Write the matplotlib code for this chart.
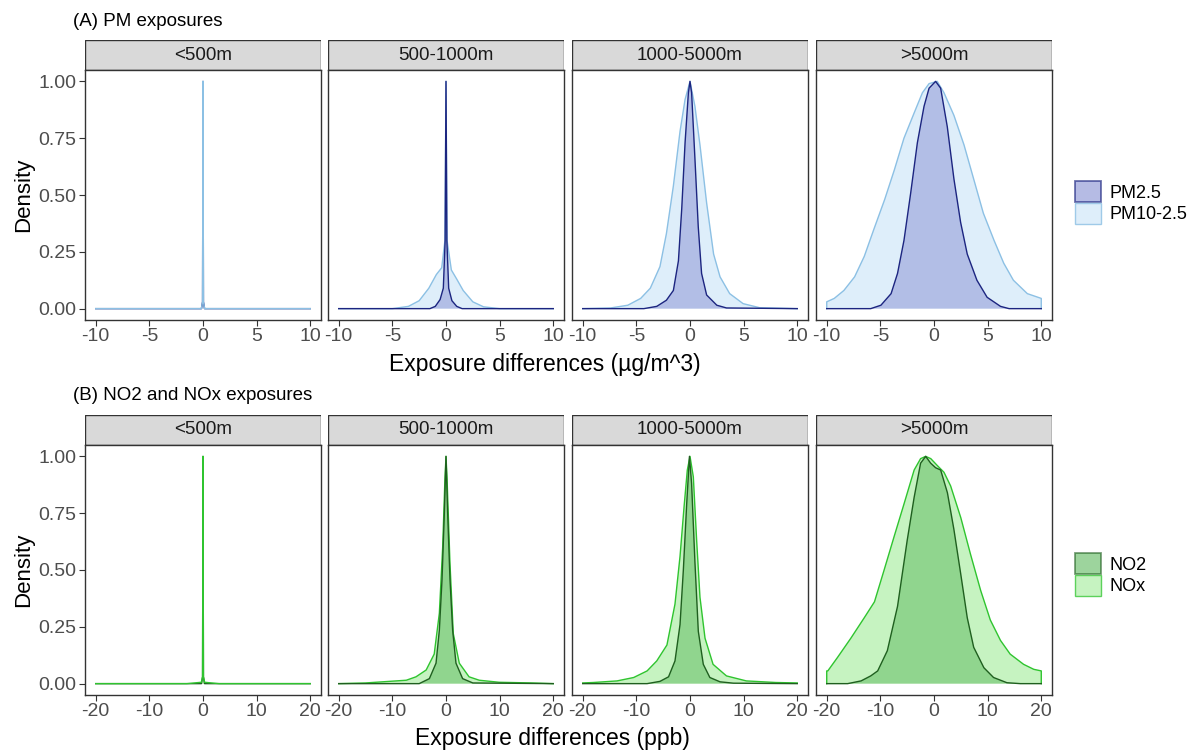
import matplotlib
matplotlib.use("Agg")
import matplotlib.pyplot as plt
from matplotlib.patches import Patch, Rectangle

plt.rcParams["font.family"] = ["Liberation Sans", "DejaVu Sans"]

# ---- data (scaled density, max = 1) ----
distance_bins = ["<500m", "500-1000m", "1000-5000m", ">5000m"]

pm_ticks = [-10, -5, 0, 5, 10]
no_ticks = [-20, -10, 0, 10, 20]
density_ticks = [0, 0.25, 0.5, 0.75, 1.0]

# (A) PM2.5
pm25_x_1 = [-10, -0.15, -0.04, 0, 0.04, 0.15, 10]
pm25_y_1 = [0, 0, 0.03, 1.0, 0.03, 0, 0]
pm25_x_2 = [-10, -1.5, -1.0, -0.55, -0.25, -0.08, 0, 0.08, 0.25, 0.55, 1.0, 1.5, 10]
pm25_y_2 = [0, 0, 0.01, 0.04, 0.09, 0.3, 1.0, 0.3, 0.09, 0.035, 0.01, 0, 0]
pm25_x_3 = [-10, -4.3, -3.1, -2.2, -1.55, -1.08, -0.77, -0.46, -0.15, 0, 0.15, 0.46,
            0.77, 1.08, 1.55, 2.5, 3.4, 10]
pm25_y_3 = [0, 0, 0.01, 0.037, 0.08, 0.21, 0.44, 0.73, 0.95, 1.0, 0.95, 0.66,
            0.36, 0.155, 0.06, 0.015, 0.003, 0]
pm25_x_4 = [-10, -5.9, -4.95, -4.0, -3.4, -2.8, -2.17, -1.55, -0.93, -0.46, 0.15, 0.62,
            1.24, 1.86, 2.48, 3.1, 4.0, 4.95, 6.2, 7.0, 10]
pm25_y_4 = [0, 0, 0.015, 0.066, 0.155, 0.3, 0.51, 0.73, 0.89, 0.97, 1.0, 0.97,
            0.8, 0.57, 0.38, 0.24, 0.125, 0.05, 0.01, 0, 0]

# (A) PM10-2.5
pm10_x_1 = [-10, -0.15, -0.04, 0, 0.04, 0.15, 10]
pm10_y_1 = [0, 0, 0.03, 1.0, 0.03, 0, 0]
pm10_x_2 = [-10, -5, -3.5, -2.5, -1.6, -0.9, -0.4, -0.1, 0, 0.1, 0.5, 1.0, 1.6, 2.5,
            3.5, 5, 10]
pm10_y_2 = [0, 0, 0.01, 0.035, 0.09, 0.15, 0.18, 0.3, 1.0, 0.3, 0.17, 0.13, 0.08,
            0.03, 0.008, 0, 0]
pm10_x_3 = [-10, -7.4, -5.8, -4.6, -3.7, -2.8, -2.2, -1.55, -0.93, -0.46, 0, 0.46,
            0.93, 1.55, 2.2, 2.8, 3.7, 4.95, 6.5, 10]
pm10_y_3 = [0, 0.003, 0.015, 0.045, 0.09, 0.185, 0.33, 0.54, 0.78, 0.92, 1.0, 0.89,
            0.72, 0.465, 0.24, 0.14, 0.066, 0.022, 0.004, 0]
pm10_x_4 = [-10, -10, -9.3, -8.4, -7.4, -6.5, -5.6, -4.6, -3.7, -2.8, -1.86, -1.08,
            -0.46, 0.3, 0.93, 1.86, 2.8, 3.7, 4.6, 5.6, 6.5, 7.4, 8.7, 10, 10]
pm10_y_4 = [0, 0.03, 0.045, 0.08, 0.14, 0.23, 0.35, 0.48, 0.61, 0.75, 0.86, 0.95,
            0.99, 1.0, 0.95, 0.85, 0.72, 0.57, 0.42, 0.3, 0.2, 0.125, 0.066, 0.045, 0]

# (B) NO2
no2_x_1 = [-20, -0.3, -0.08, 0, 0.08, 0.3, 20]
no2_y_1 = [0, 0, 0.03, 1.0, 0.03, 0, 0]
no2_x_2 = [-20, -5, -3.1, -1.86, -1.24, -0.74, -0.31, 0, 0.31, 0.74, 1.24, 1.86, 3.1, 5, 20]
no2_y_2 = [0, 0, 0.022, 0.09, 0.235, 0.46, 0.75, 1.0, 0.75, 0.46, 0.235, 0.09, 0.022, 0.003, 0]
no2_x_3 = [-20, -8, -5.6, -4.0, -2.8, -1.86, -1.24, -0.62, -0.1, 0.3, 0.93, 1.55, 2.48,
           3.7, 5.6, 8.1, 20]
no2_y_3 = [0, 0, 0.01, 0.03, 0.1, 0.26, 0.5, 0.79, 1.0, 0.88, 0.53, 0.23, 0.085,
           0.027, 0.008, 0.002, 0]
no2_x_4 = [-20, -16.1, -13.6, -11.8, -10.5, -8.7, -6.8, -5.0, -3.7, -2.5, -1.55, -0.62,
           0.3, 1.24, 2.5, 3.7, 5.0, 6.2, 7.4, 9.3, 11.1, 13.6, 16.1, 20]
no2_y_4 = [0, 0, 0.012, 0.034, 0.056, 0.145, 0.34, 0.63, 0.82, 0.97, 1.0, 0.97,
           0.95, 0.94, 0.84, 0.68, 0.48, 0.29, 0.16, 0.07, 0.027, 0.004, 0, 0]

# (B) NOx
nox_x_1 = [-20, -3, -0.3, -0.08, 0, 0.08, 0.3, 3, 20]
nox_y_1 = [0, 0, 0.006, 0.03, 1.0, 0.03, 0.006, 0, 0]
nox_x_2 = [-20, -15, -7.4, -5.6, -3.7, -2.2, -1.24, -0.62, -0.2, 0, 0.2, 0.74, 1.36,
           2.48, 4.3, 6.2, 9.9, 16, 20]
nox_y_2 = [0, 0.003, 0.015, 0.03, 0.06, 0.13, 0.31, 0.6, 0.9, 1.0, 0.9, 0.53, 0.22,
           0.09, 0.03, 0.015, 0.006, 0.003, 0]
nox_x_3 = [-20, -18, -13.6, -10.5, -8, -6.2, -4.3, -2.8, -1.86, -1.1, -0.5, 0, 0.62,
           1.24, 1.86, 2.8, 4.3, 6.8, 10.5, 16, 20]
nox_y_3 = [0.003, 0.005, 0.012, 0.027, 0.056, 0.1, 0.17, 0.35, 0.56, 0.78, 0.94, 1.0,
           0.91, 0.63, 0.38, 0.2, 0.085, 0.034, 0.012, 0.005, 0.003]
nox_x_4 = [-20, -20, -19.8, -18, -15.5, -13, -11.1, -9.3, -7.4, -5.6, -3.7, -2.5, -1.55,
           -0.6, 0.6, 1.86, 3.1, 5.0, 6.8, 8.7, 10.5, 12.4, 14.2, 16.7, 18.6, 20, 20]
nox_y_4 = [0, 0.056, 0.056, 0.115, 0.2, 0.29, 0.36, 0.5, 0.65, 0.79, 0.94, 0.99, 1.0,
           0.99, 0.96, 0.93, 0.87, 0.73, 0.57, 0.41, 0.28, 0.19, 0.13, 0.085, 0.063,
           0.056, 0]

pm25_curves = [(pm25_x_1, pm25_y_1), (pm25_x_2, pm25_y_2), (pm25_x_3, pm25_y_3), (pm25_x_4, pm25_y_4)]
pm10_curves = [(pm10_x_1, pm10_y_1), (pm10_x_2, pm10_y_2), (pm10_x_3, pm10_y_3), (pm10_x_4, pm10_y_4)]
no2_curves = [(no2_x_1, no2_y_1), (no2_x_2, no2_y_2), (no2_x_3, no2_y_3), (no2_x_4, no2_y_4)]
nox_curves = [(nox_x_1, nox_y_1), (nox_x_2, nox_y_2), (nox_x_3, nox_y_3), (nox_x_4, nox_y_4)]

# styles: (fill, edge, fill alpha)
pm25_style = ("#8e97d6", "#1c2580", 0.55)
pm10_style = ("#d6eaf9", "#8cc0e4", 0.8)
no2_style = ("#5cb85c", "#1f5f1f", 0.5)
nox_style = ("#b4f0ac", "#2fc42f", 0.75)

W, H = 1189, 752
fig = plt.figure(figsize=(W / 100, H / 100), dpi=100)

panel_left = [85, 328, 572, 816]
panel_w = 236


def px_axes(left, top, width, height):
    return fig.add_axes([left / W, 1 - (top + height) / H, width / W, height / H])


def draw_density(ax, x, y, style):
    fill, edge, alpha = style
    ax.fill_between(x, y, 0, facecolor=fill, edgecolor="none", alpha=alpha)
    ax.plot(x, y, color=edge, lw=1.0)


def draw_row(top, strip_h, panel_h, curves_back, curves_front, back_style, front_style,
             xticks, xlabel, title, legend_labels, legend_top, xlabel_center):
    fig.text(73 / W, 1 - (top - 19) / H, title, fontsize=13.5, va="center", ha="left")
    for i, name in enumerate(distance_bins):
        left = panel_left[i]
        strip = px_axes(left, top, panel_w, strip_h)
        strip.add_patch(Rectangle((0, 0), 1, 1, transform=strip.transAxes,
                                  facecolor="#d9d9d9", edgecolor="#333333", lw=1.0))
        strip.set_axis_off()
        strip.text(0.5, 0.5, name, ha="center", va="center", fontsize=13.5, color="#1a1a1a",
                   transform=strip.transAxes)

        ax = px_axes(left, top + strip_h, panel_w, panel_h)
        bx, by = curves_back[i]
        fx, fy = curves_front[i]
        if i == 0:
            # thin spikes: the lighter series shows on top in the reference
            draw_density(ax, fx, fy, front_style)
            draw_density(ax, bx, by, back_style)
        else:
            draw_density(ax, bx, by, back_style)
            draw_density(ax, fx, fy, front_style)
        span = xticks[-1] - xticks[0]
        ax.set_xlim(xticks[0] - 0.05 * span, xticks[-1] + 0.05 * span)
        ax.set_ylim(-0.05, 1.05)
        ax.set_xticks(xticks)
        ax.set_xticklabels([str(t) for t in xticks])
        ax.set_yticks(density_ticks)
        ax.tick_params(labelsize=14, labelcolor="#4d4d4d", color="#333333",
                       length=4, width=0.8, pad=2)
        if i == 0:
            ax.set_yticklabels(["0.00", "0.25", "0.50", "0.75", "1.00"])
            ax.set_ylabel("Density", fontsize=16, labelpad=3)
        else:
            ax.set_yticklabels([])
            ax.tick_params(axis="y", length=0)
        for spine in ax.spines.values():
            spine.set_color("#333333")
            spine.set_linewidth(1.0)

    fig.text(xlabel_center / W, 1 - (top + strip_h + panel_h + 44) / H, xlabel,
             fontsize=16.5, ha="center", va="center")

    handles = [Patch(facecolor=front_style[0], edgecolor=front_style[1],
                     alpha=front_style[2] + 0.1, lw=1.3),
               Patch(facecolor=back_style[0], edgecolor=back_style[1],
                     alpha=back_style[2], lw=1.0)]
    fig.legend(handles, legend_labels, loc="upper left",
               bbox_to_anchor=(1068 / W, 1 - legend_top / H), frameon=False,
               fontsize=13, handlelength=1.4, handleheight=1.4, labelspacing=0.05,
               handletextpad=0.5, borderaxespad=0)


draw_row(40, 30, 250, pm10_curves, pm25_curves, pm10_style, pm25_style,
         pm_ticks, "Exposure differences (µg/m^3)", "(A) PM exposures",
         ["PM2.5", "PM10-2.5"], 174, 545)
draw_row(415, 30, 250, nox_curves, no2_curves, nox_style, no2_style,
         no_ticks, "Exposure differences (ppb)", "(B) NO2 and NOx exposures",
         ["NO2", "NOx"], 546, 552)

fig.savefig("out.png", dpi=100)
